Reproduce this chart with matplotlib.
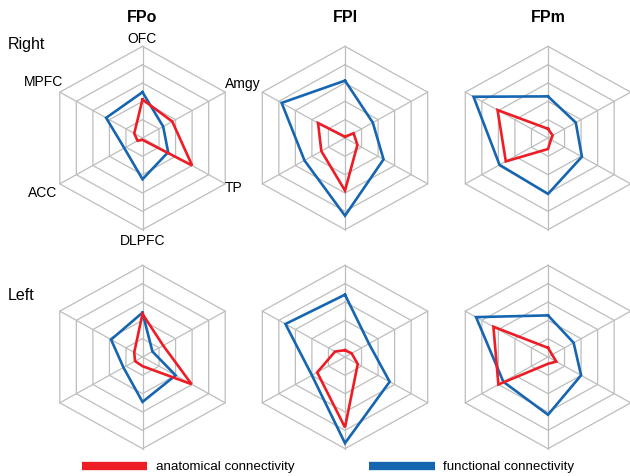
import numpy as np
import matplotlib
matplotlib.use("Agg")
import matplotlib.pyplot as plt

plt.rcParams['font.family'] = ['Liberation Sans', 'DejaVu Sans']

# Regions, clockwise from the top spoke
regions = ["OFC", "Amgy", "TP", "DLPFC", "ACC", "MPFC"]
seeds = ["FPo", "FPl", "FPm"]
hemispheres = ["Right", "Left"]

# Connectivity profiles (scale 0-5), order follows `regions`
anat_right_fpo = [2.1, 1.8, 3.0, 0.1, 0.3, 0.5]
func_right_fpo = [2.5, 1.25, 1.55, 2.25, 1.1, 2.2]
anat_right_fpl = [0.07, 0.52, 0.75, 2.87, 1.43, 1.63]
func_right_fpl = [3.13, 1.68, 2.33, 4.24, 2.45, 3.83]
anat_right_fpm = [0.5, 0.28, 0.18, 0.6, 2.55, 3.05]
func_right_fpm = [2.27, 1.68, 2.05, 3.05, 2.93, 4.5]

anat_left_fpo = [2.35, 1.25, 2.97, 0.5, 0.45, 0.5]
func_left_fpo = [2.42, 0.6, 2.0, 2.45, 1.15, 1.9]
anat_left_fpl = [0.37, 0.4, 0.77, 3.84, 1.68, 0.6]
func_left_fpl = [3.4, 1.45, 2.7, 4.7, 2.0, 3.6]
anat_left_fpm = [0.5, 0.25, 0.5, 0.37, 3.0, 3.3]
func_left_fpm = [2.27, 1.55, 2.0, 3.15, 2.7, 4.35]

anatomical = [[anat_right_fpo, anat_right_fpl, anat_right_fpm],
              [anat_left_fpo, anat_left_fpl, anat_left_fpm]]
functional = [[func_right_fpo, func_right_fpl, func_right_fpm],
              [func_left_fpo, func_left_fpl, func_left_fpm]]

n_rings = 5
RED = "#ee1c25"
BLUE = "#1565b0"
GRID = "#bdbdbd"

W_PX, H_PX = 630, 477
fig = plt.figure(figsize=(W_PX / 100, H_PX / 100), dpi=100)

angles = np.deg2rad(90 - 60 * np.arange(len(regions)))
cos_a, sin_a = np.cos(angles), np.sin(angles)


def xy(values):
    v = np.asarray(values, dtype=float)
    x = v * cos_a
    y = v * sin_a
    return np.append(x, x[0]), np.append(y, y[0])


centers_x = [142.5, 345, 548]
centers_y = [139, 358]
px_per_unit_x, px_per_unit_y = 19.1, 18.33
lim = 5.3
ax_w = 2 * lim * px_per_unit_x
ax_h = 2 * lim * px_per_unit_y

axes = []
for r in range(2):
    for c in range(3):
        cx, cy = centers_x[c], centers_y[r]
        ax = fig.add_axes([(cx - ax_w / 2) / W_PX,
                           (H_PX - cy - ax_h / 2) / H_PX,
                           ax_w / W_PX, ax_h / H_PX])
        ax.set_xlim(-lim, lim)
        ax.set_ylim(-lim, lim)
        ax.axis("off")

        # hexagonal rings and spokes
        for k in range(1, n_rings + 1):
            gx, gy = xy([k] * len(regions))
            ax.plot(gx, gy, color=GRID, lw=0.9, zorder=1)
        for ca, sa in zip(cos_a, sin_a):
            ax.plot([0, n_rings * ca], [0, n_rings * sa], color=GRID, lw=0.9, zorder=1)

        fx, fy = xy(functional[r][c])
        ax.plot(fx, fy, color=BLUE, lw=1.9, zorder=3, solid_joinstyle="miter")
        axx, ayy = xy(anatomical[r][c])
        ax.plot(axx, ayy, color=RED, lw=1.9, zorder=4, solid_joinstyle="miter")
        axes.append(ax)

# region labels around the first chart
ax0 = axes[0]
lab_kw = dict(fontsize=10, clip_on=False)
ax0.text(0, 5.45, "OFC", ha="center", va="center", **lab_kw)
ax0.text(4.3, 3.0, "Amgy", ha="left", va="center", **lab_kw)
ax0.text(4.3, -2.67, "TP", ha="left", va="center", **lab_kw)
ax0.text(0, -5.56, "DLPFC", ha="center", va="center", **lab_kw)
ax0.text(-4.45, -2.95, "ACC", ha="right", va="center", **lab_kw)
ax0.text(-4.15, 3.1, "MPFC", ha="right", va="center", **lab_kw)

# column titles and row labels
for c, name in enumerate(seeds):
    fig.text(centers_x[c] / W_PX, 1 - 17 / H_PX, name, ha="center", va="center",
             fontsize=11.5, fontweight="bold")
fig.text(8 / W_PX, 1 - 44 / H_PX, hemispheres[0], ha="left", va="center", fontsize=11.5)
fig.text(8 / W_PX, 1 - 295 / H_PX, hemispheres[1], ha="left", va="center", fontsize=11.5)

# legend
leg_y = 1 - 467 / H_PX
fig.add_artist(plt.Line2D([82 / W_PX, 147 / W_PX], [leg_y, leg_y], color=RED, lw=6,
                          solid_capstyle="butt", transform=fig.transFigure))
fig.text(156 / W_PX, leg_y, "anatomical connectivity", ha="left", va="center", fontsize=9.6)
fig.add_artist(plt.Line2D([369 / W_PX, 435 / W_PX], [leg_y, leg_y], color=BLUE, lw=6,
                          solid_capstyle="butt", transform=fig.transFigure))
fig.text(443 / W_PX, leg_y, "functional connectivity", ha="left", va="center", fontsize=9.6)

fig.savefig("out.png", dpi=100, facecolor="white")
